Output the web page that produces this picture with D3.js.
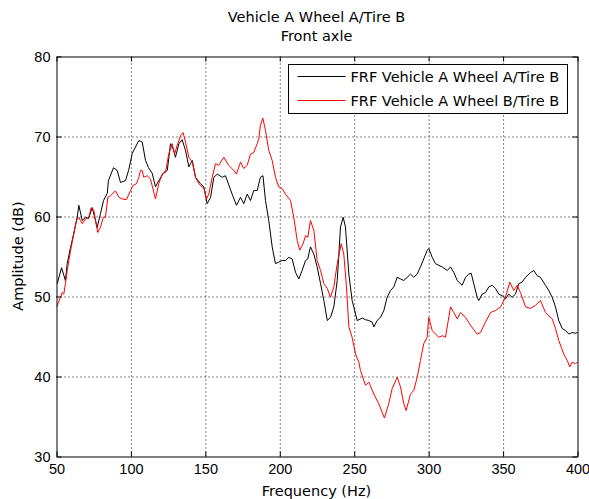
<!DOCTYPE html>
<html>
<head>
<meta charset="utf-8">
<script src="https://cdn.jsdelivr.net/npm/d3@7"></script>
<style>
  body { margin: 0; background: #fff; }
  text { font-family: "DejaVu Sans", sans-serif; font-size: 14.5px; fill: #000; }
  .grid line { stroke: #000; stroke-dasharray: 1,3; }
  .grid path { display: none; }
</style>
</head>
<body>
<div id="cnv"></div>
<script>
// series 1: FRF Vehicle A Wheel A/Tire B (black)
var freqA = [50.5, 53.4, 56.0, 57.2, 59.4, 61.6, 63.9, 65.0, 67.3, 69.5, 71.5, 74.0, 76.2, 77.3, 79.6, 81.6, 84.1, 84.9, 88.3, 90.8,
  93.0, 96.4, 98.4, 100.9, 105.3, 107.6, 109.8, 111.8, 114.3, 116.5, 118.7, 122.1, 124.4, 126.6, 128.8, 129.9, 132.2, 134.4, 136.7, 138.9,
  141.2, 143.4, 146.7, 149.0, 151.2, 153.5, 155.7, 158.0, 161.3, 163.5, 168.0, 170.9, 173.6, 175.8, 178.1, 180.3, 182.5, 184.8, 187.0, 188.7,
  190.4, 192.6, 194.9, 197.1, 199.3, 201.6, 203.8, 206.1, 208.3, 210.6, 212.8, 215.0, 217.3, 218.8, 220.6, 222.9, 225.1, 227.4, 229.6, 231.9,
  234.1, 236.3, 238.6, 240.8, 242.6, 244.1, 246.4, 248.6, 249.7, 252.0, 255.4, 257.6, 259.8, 262.1, 263.2, 265.4, 267.7, 269.9, 272.1, 274.4,
  276.6, 278.9, 281.1, 283.3, 285.6, 287.8, 290.0, 292.3, 294.5, 296.7, 299.0, 300.1, 302.4, 304.6, 306.8, 309.1, 312.5, 314.7, 316.9, 319.2,
  322.5, 324.8, 327.0, 328.6, 330.3, 332.6, 333.7, 336.0, 338.2, 340.4, 342.7, 344.9, 347.1, 349.4, 351.6, 353.8, 356.1, 358.3, 360.6, 362.8,
  365.1, 368.4, 370.7, 372.9, 375.1, 378.5, 380.7, 383.0, 385.2, 387.4, 389.7, 391.9, 394.2, 396.4, 398.6, 400];
var ampA = [51.6, 53.6, 52.0, 54.1, 56.1, 57.9, 59.9, 61.4, 59.5, 59.9, 59.75, 61.1, 59.5, 58.6, 60.4, 62.0, 62.9, 64.5, 66.1, 65.75,
  64.25, 64.5, 65.75, 67.9, 69.5, 69.3, 67.0, 66.1, 65.4, 63.7, 64.5, 65.5, 65.75, 69.1, 68.25, 67.4, 69.1, 69.6, 68.25, 66.2,
  67.0, 64.9, 64.1, 63.7, 61.6, 62.4, 64.9, 65.3, 64.9, 65.1, 62.8, 61.4, 62.4, 61.6, 62.8, 62.0, 63.25, 63.25, 64.9, 65.1,
  62.0, 59.5, 56.2, 54.1, 54.3, 54.5, 54.5, 54.9, 54.7, 53.0, 52.2, 53.25, 54.5, 54.7, 56.2, 55.3, 53.7, 51.6, 49.5, 47.0,
  47.4, 48.7, 52.0, 58.7, 59.9, 58.7, 52.8, 49.5, 48.7, 47.0, 47.3, 47.1, 47.0, 46.8, 46.2, 47.0, 47.4, 48.25, 49.9, 50.75,
  51.2, 52.4, 52.2, 52.0, 52.4, 52.8, 52.4, 52.8, 53.7, 54.7, 55.75, 56.0, 54.9, 54.1, 53.9, 53.7, 53.25, 53.7, 53.0, 52.0,
  51.4, 52.4, 52.8, 52.9, 51.6, 49.9, 49.5, 50.3, 50.5, 51.2, 51.4, 51.0, 50.3, 50.1, 49.7, 50.3, 49.9, 50.3, 51.6, 51.8,
  52.4, 53.0, 53.25, 52.6, 52.4, 51.4, 50.75, 49.9, 48.7, 47.0, 46.0, 45.75, 45.3, 45.5, 45.4, 45.5];

// series 2: FRF Vehicle A Wheel B/Tire B (red)
var freqB = [50.0, 50.5, 52.7, 53.8, 54.9, 56.0, 57.2, 58.3, 59.9, 61.6, 63.4, 65.0, 66.1, 67.3, 69.5, 71.7, 73.3, 75.1, 76.2, 77.7,
  79.6, 81.4, 82.9, 84.5, 86.3, 89.6, 91.9, 94.1, 97.0, 99.7, 101.5, 103.7, 105.3, 106.4, 107.6, 108.6, 110.9, 113.1, 116.5, 118.7,
  121.0, 123.2, 125.4, 127.7, 129.3, 131.1, 133.3, 135.0, 136.7, 138.9, 141.2, 143.4, 145.6, 149.0, 150.8, 152.3, 154.6, 156.8, 159.0, 162.4,
  165.7, 169.1, 170.9, 173.6, 175.8, 178.1, 180.3, 182.5, 184.8, 185.9, 187.0, 188.6, 190.4, 192.6, 194.9, 197.1, 199.3, 201.6, 203.8, 207.2,
  209.4, 211.7, 213.4, 215.7, 217.3, 218.8, 220.6, 222.9, 225.1, 227.4, 229.6, 231.9, 234.1, 236.3, 238.6, 241.3, 243.0, 244.8, 246.4, 248.6,
  250.9, 253.1, 254.2, 257.6, 259.8, 263.2, 266.5, 270.3, 273.2, 275.5, 278.9, 281.1, 283.3, 284.9, 287.8, 290.0, 292.3, 294.5, 296.7, 299.0,
  300.1, 302.4, 304.6, 306.8, 309.1, 311.3, 314.7, 316.9, 319.2, 321.4, 324.8, 328.1, 332.6, 334.8, 338.2, 341.6, 344.9, 348.3, 351.6, 354.5,
  357.2, 359.5, 361.7, 365.1, 368.4, 371.8, 375.1, 378.5, 383.0, 385.2, 387.4, 390.8, 393.1, 394.8, 396.4, 398.6, 400];
var ampB = [48.75, 48.9, 49.9, 50.5, 50.3, 51.6, 53.25, 54.5, 56.2, 57.8, 59.5, 59.9, 59.5, 59.1, 59.7, 59.9, 61.1, 60.75, 59.5, 58.0,
  58.7, 59.9, 59.9, 62.4, 62.6, 63.2, 62.4, 62.2, 62.1, 63.25, 63.9, 64.1, 64.9, 65.75, 65.75, 64.9, 65.1, 64.7, 62.2, 64.1,
  65.3, 65.5, 67.8, 69.1, 67.8, 68.9, 70.1, 70.5, 69.3, 67.4, 66.8, 64.9, 64.1, 63.5, 62.2, 62.8, 64.9, 66.6, 66.4, 67.4,
  66.4, 65.75, 65.3, 66.8, 66.0, 66.4, 67.8, 68.0, 69.1, 69.7, 71.4, 72.3, 70.75, 68.25, 67.0, 64.9, 63.7, 63.5, 62.8, 62.0,
  59.9, 57.0, 55.8, 56.6, 57.6, 57.4, 59.5, 58.25, 54.5, 53.25, 51.6, 51.0, 49.9, 51.2, 54.1, 56.6, 55.3, 51.2, 46.2, 44.9,
  42.8, 41.8, 40.75, 38.9, 39.3, 37.8, 36.6, 34.8, 36.6, 38.5, 39.9, 38.7, 36.6, 35.75, 37.8, 38.25, 39.9, 42.0, 44.1, 44.9,
  47.4, 45.75, 45.3, 44.9, 45.1, 44.9, 48.7, 48.0, 47.2, 48.0, 47.4, 46.4, 45.3, 45.5, 46.8, 48.0, 48.25, 48.7, 49.9, 51.8,
  50.75, 51.4, 50.5, 48.7, 48.5, 48.9, 49.5, 48.0, 47.2, 46.0, 44.5, 42.8, 42.0, 41.2, 41.8, 41.6, 41.8];

var xTicks = [50, 100, 150, 200, 250, 300, 350, 400];
var yTicks = [30, 40, 50, 60, 70, 80];
var seriesNames = ["FRF Vehicle A Wheel A/Tire B", "FRF Vehicle A Wheel B/Tire B"];
var seriesColors = ["#000000", "#ff0000"];

var width = 589, height = 499;
var margin = {top: 56, right: 12, bottom: 43, left: 56},
    graphWidth = width - margin.left - margin.right,
    graphHeight = height - margin.top - margin.bottom;

var svg = d3.select("#cnv").append("svg")
  .attr("width", width)
  .attr("height", height);

var g = svg.append("g")
  .attr("transform", "translate(" + (margin.left + 0.5) + "," + (margin.top + 0.5) + ")");

var xScale = d3.scaleLinear().domain([50, 400]).range([0, graphWidth]);
var yScale = d3.scaleLinear().domain([30, 80]).range([graphHeight, 0]);

//dotted grid
g.append("g")
  .attr("class", "grid")
  .attr("transform", "translate(0," + graphHeight + ")")
  .call(d3.axisBottom(xScale).tickValues(xTicks.slice(1, -1)).tickSize(-graphHeight).tickFormat(""));
g.append("g")
  .attr("class", "grid")
  .call(d3.axisLeft(yScale).tickValues(yTicks.slice(1, -1)).tickSize(-graphWidth).tickFormat(""));

//series
var line = d3.line()
  .x(function(d) { return xScale(d[0]); })
  .y(function(d) { return yScale(d[1]); });

var series = [d3.zip(freqA, ampA), d3.zip(freqB, ampB)];
g.selectAll(".series")
  .data(series)
  .enter().append("path")
  .attr("class", "series")
  .attr("fill", "none")
  .attr("stroke", function(d, i) { return seriesColors[i]; })
  .attr("stroke-width", 1)
  .attr("d", line);

//axes, ticks pointing inward on all four sides
function styleAxis(sel) {
  sel.selectAll("path").attr("stroke", "#000");
  sel.selectAll("line").attr("stroke", "#000");
  sel.selectAll("text").attr("fill", "#000").style("font-family", "'Liberation Sans', Arial, sans-serif").style("font-size", "14.5px");
}
g.append("g")
  .attr("transform", "translate(0," + graphHeight + ")")
  .call(d3.axisBottom(xScale).tickValues(xTicks).tickSizeInner(-5).tickSizeOuter(0).tickPadding(7))
  .call(styleAxis);
g.append("g")
  .call(d3.axisTop(xScale).tickValues(xTicks).tickSizeInner(-5).tickSizeOuter(0).tickFormat(""))
  .call(styleAxis);
g.append("g")
  .call(d3.axisLeft(yScale).tickValues(yTicks).tickSizeInner(-5).tickSizeOuter(0).tickPadding(6))
  .call(styleAxis);
g.append("g")
  .attr("transform", "translate(" + graphWidth + ",0)")
  .call(d3.axisRight(yScale).tickValues(yTicks).tickSizeInner(-5).tickSizeOuter(0).tickFormat(""))
  .call(styleAxis);

//titles
svg.append("text")
  .attr("text-anchor", "middle")
  .attr("x", margin.left + graphWidth / 2)
  .attr("y", 22)
  .text("Vehicle A Wheel A/Tire B");
svg.append("text")
  .attr("text-anchor", "middle")
  .attr("x", margin.left + graphWidth / 2)
  .attr("y", 41)
  .text("Front axle");
svg.append("text")
  .attr("text-anchor", "middle")
  .attr("x", margin.left + graphWidth / 2)
  .attr("y", 496)
  .text("Frequency (Hz)");
svg.append("text")
  .attr("text-anchor", "middle")
  .attr("transform", "translate(" + 23 + "," + (margin.top + graphHeight / 2) + "), rotate(-90)")
  .text("Amplitude (dB)");

//legend
var legend = svg.append("g")
  .attr("transform", "translate(288.5,64.5)");
legend.append("rect")
  .attr("width", 279)
  .attr("height", 49)
  .attr("fill", "#fff")
  .attr("stroke", "#000");
seriesNames.forEach(function(name, i) {
  var ly = 12 + i * 24;
  legend.append("line")
    .attr("x1", 9).attr("x2", 57)
    .attr("y1", ly).attr("y2", ly)
    .attr("stroke", seriesColors[i]);
  legend.append("text")
    .attr("x", 62)
    .attr("y", ly + 5)
    .text(name);
});
</script>
</body>
</html>
